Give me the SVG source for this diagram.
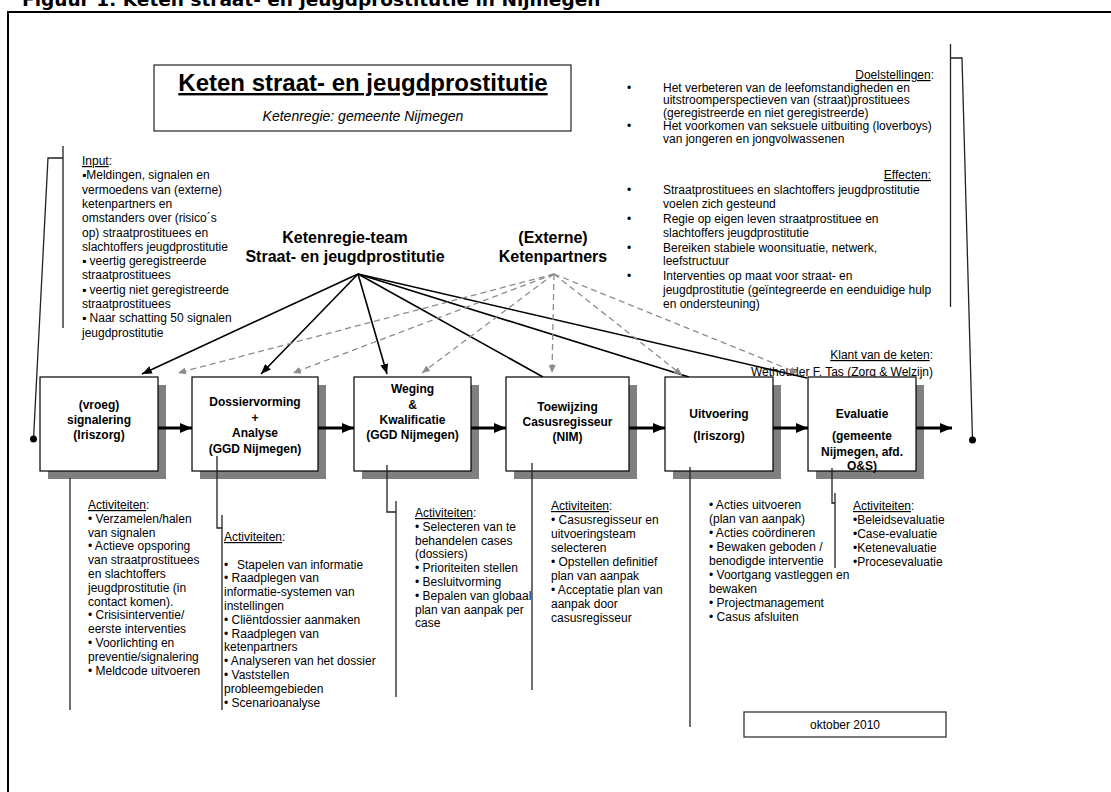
<svg xmlns="http://www.w3.org/2000/svg" width="1111" height="792" viewBox="0 0 1111 792">
<style>
.t{font-family:"Liberation Sans",Arial,"DejaVu Sans",sans-serif;font-size:12px;fill:#000}
.bt{font-family:"Liberation Sans",Arial,sans-serif;font-size:12px;font-weight:bold;fill:#000;text-anchor:middle}
.h{font-family:"Liberation Sans",Arial,sans-serif;font-size:16px;font-weight:bold;fill:#000;text-anchor:middle}
.u{text-decoration:underline}
.box{fill:#fff;stroke:#000;stroke-width:1.2}
.sh{fill:#808080}
.ln{stroke:#222;stroke-width:1.3;fill:none}
.solid{stroke:#000;stroke-width:1.6;fill:none}
.dash{stroke:#8c8c8c;stroke-width:1.3;stroke-dasharray:6 4;fill:none}
.thick{stroke:#000;stroke-width:3;fill:none}
.frame{stroke:#000;stroke-width:2;fill:none}
.tbox{fill:#fff;stroke:#333;stroke-width:1.3}
</style>
<defs>
<marker id="ab" markerUnits="userSpaceOnUse" markerWidth="10" markerHeight="8" refX="10" refY="4" orient="auto"><path d="M0,0 L10,4 L0,8 z" fill="#000"/></marker>
<marker id="ag" markerUnits="userSpaceOnUse" markerWidth="8" markerHeight="7" refX="8" refY="3.5" orient="auto"><path d="M0,0 L8,3.5 L0,7 z" fill="#8c8c8c"/></marker>
<marker id="at" markerUnits="userSpaceOnUse" markerWidth="12" markerHeight="10" refX="12" refY="5" orient="auto"><path d="M0,0 L12,5 L0,10 z" fill="#000"/></marker>
</defs>
<rect width="1111" height="792" fill="#fff"/>
<text x="22" y="5.5" font-family="'DejaVu Sans',Verdana,sans-serif" font-weight="bold" font-size="18.5">Figuur 1: Keten straat- en jeugdprostitutie in Nijmegen</text>
<path class="frame" d="M8,792 V12 H1111"/>

<g id="node-title">
<rect class="tbox" x="154" y="65" width="417" height="66"/>
<text x="363" y="91" text-anchor="middle" font-family="'Liberation Sans',Arial,sans-serif" font-size="24" font-weight="bold" text-decoration="underline">Keten straat- en jeugdprostitutie</text>
<text x="363" y="121" text-anchor="middle" font-family="'Liberation Sans',Arial,sans-serif" font-size="14" font-style="italic">Ketenregie: gemeente Nijmegen</text>
</g>

<g id="node-doelstellingen" class="t">
<text x="934" y="79" text-anchor="end"><tspan class="u">Doelstellingen</tspan>:</text>
<text x="627" y="91.5">•</text><text x="663" y="91.5">Het verbeteren van de leefomstandigheden en</text>
<text x="663" y="104.3">uitstroomperspectieven van (straat)prostituees</text>
<text x="663" y="117.1">(geregistreerde en niet geregistreerde)</text>
<text x="627" y="129.9">•</text><text x="663" y="129.9">Het voorkomen van seksuele uitbuiting (loverboys)</text>
<text x="663" y="142.7">van jongeren en jongvolwassenen</text>
</g>

<g id="node-effecten" class="t">
<text x="931" y="179" text-anchor="end" class="u">Effecten:</text>
<text x="627" y="194">•</text><text x="663" y="194">Straatprostituees en slachtoffers jeugdprostitutie</text>
<text x="663" y="207.5">voelen zich gesteund</text>
<text x="627" y="223">•</text><text x="663" y="223">Regie op eigen leven straatprostituee en</text>
<text x="663" y="236.5">slachtoffers jeugdprostitutie</text>
<text x="627" y="251.5">•</text><text x="663" y="251.5">Bereiken stabiele woonsituatie, netwerk,</text>
<text x="663" y="265">leefstructuur</text>
<text x="627" y="280">•</text><text x="663" y="280">Interventies op maat voor straat- en</text>
<text x="663" y="294">jeugdprostitutie (geïntegreerde en eenduidige hulp</text>
<text x="663" y="308">en ondersteuning)</text>
</g>

<g id="node-input" class="t">
<text x="82" y="165"><tspan class="u">Input</tspan>:</text>
<text x="82" y="179.3">▪Meldingen, signalen en</text>
<text x="82" y="193.6">vermoedens van (externe)</text>
<text x="82" y="207.9">ketenpartners en</text>
<text x="82" y="222.2">omstanders over (risico´s</text>
<text x="82" y="236.5">op) straatprostituees en</text>
<text x="82" y="250.8">slachtoffers jeugdprostitutie</text>
<text x="82" y="265.1">▪ veertig geregistreerde</text>
<text x="82" y="279.4">straatprostituees</text>
<text x="82" y="293.7">▪ veertig niet geregistreerde</text>
<text x="82" y="308">straatprostituees</text>
<text x="82" y="322.3">▪ Naar schatting 50 signalen</text>
<text x="82" y="336.6">jeugdprostitutie</text>
</g>

<g id="node-klant" class="t">
<text x="933" y="359" text-anchor="end"><tspan class="u">Klant van de keten</tspan>:</text>
<text x="933" y="376" text-anchor="end">Wethouder F. Tas (Zorg &amp; Welzijn)</text>
</g>

<g id="node-team">
<text class="h" x="345" y="243">Ketenregie-team</text>
<text class="h" x="345" y="261.5">Straat- en jeugdprostitutie</text>
</g>
<g id="node-extern">
<text class="h" x="553" y="243">(Externe)</text>
<text class="h" x="553" y="261.5">Ketenpartners</text>
</g>

<g id="connectors">
<path class="ln" d="M63,146 V328 M63,158 H48 L33.5,439"/>
<circle cx="33.5" cy="439" r="3.5" fill="#000"/>
<path class="ln" d="M950.5,44 V307 M950.5,58 H962 L972.5,440"/>
<circle cx="972.5" cy="440" r="3.5" fill="#000"/>
<line class="solid" x1="358" y1="274" x2="142" y2="374" marker-end="url(#ab)"/>
<line class="solid" x1="358" y1="274" x2="261" y2="374" marker-end="url(#ab)"/>
<line class="solid" x1="358" y1="274" x2="387" y2="374" marker-end="url(#ab)"/>
<line class="solid" x1="358" y1="274" x2="543" y2="377"/>
<line class="solid" x1="358" y1="274" x2="689" y2="377"/>
<line class="solid" x1="358" y1="274" x2="807" y2="378"/>
<line class="dash" x1="554" y1="274" x2="178" y2="373" marker-end="url(#ag)"/>
<line class="dash" x1="554" y1="274" x2="293" y2="373" marker-end="url(#ag)"/>
<line class="dash" x1="554" y1="274" x2="422" y2="373" marker-end="url(#ag)"/>
<line class="dash" x1="554" y1="274" x2="552" y2="373" marker-end="url(#ag)"/>
<line class="dash" x1="554" y1="274" x2="682" y2="375" marker-end="url(#ag)"/>
<line class="dash" x1="554" y1="274" x2="798" y2="373" marker-end="url(#ag)"/>
</g>

<g id="node-b1"><rect class="sh" x="48" y="385" width="118" height="94"/><rect class="box" x="40" y="377" width="118" height="94"/>
<text class="bt" x="99" y="409">(vroeg)</text><text class="bt" x="99" y="424">signalering</text><text class="bt" x="99" y="439">(Iriszorg)</text></g>
<g id="node-b2"><rect class="sh" x="200" y="385" width="126" height="94"/><rect class="box" x="192" y="377" width="126" height="94"/>
<text class="bt" x="255" y="406">Dossiervorming</text><text class="bt" x="255" y="421.5">+</text><text class="bt" x="255" y="437">Analyse</text><text class="bt" x="255" y="452.5">(GGD Nijmegen)</text></g>
<g id="node-b3"><rect class="sh" x="362" y="385" width="117" height="94"/><rect class="box" x="354" y="377" width="117" height="94"/>
<text class="bt" x="412.5" y="393">Weging</text><text class="bt" x="412.5" y="409">&amp;</text><text class="bt" x="412.5" y="424">Kwalificatie</text><text class="bt" x="412.5" y="439">(GGD Nijmegen)</text></g>
<g id="node-b4"><rect class="sh" x="514" y="385" width="123" height="94"/><rect class="box" x="506" y="377" width="123" height="94"/>
<text class="bt" x="567.5" y="411">Toewijzing</text><text class="bt" x="567.5" y="426">Casusregisseur</text><text class="bt" x="567.5" y="441">(NIM)</text></g>
<g id="node-b5"><rect class="sh" x="673" y="385" width="108" height="94"/><rect class="box" x="665" y="377" width="108" height="94"/>
<text class="bt" x="719" y="418">Uitvoering</text><text class="bt" x="719" y="440">(Iriszorg)</text></g>
<g id="node-b6"><rect class="sh" x="816" y="385" width="108" height="94"/><rect class="box" x="808" y="377" width="108" height="94"/>
<text class="bt" x="862" y="418">Evaluatie</text><text class="bt" x="862" y="440">(gemeente</text><text class="bt" x="862" y="456">Nijmegen, afd.</text><text class="bt" x="862" y="470">O&amp;S)</text></g>

<g id="chain-connectors">
<line class="thick" x1="158" y1="428" x2="192" y2="428" marker-end="url(#at)"/>
<line class="thick" x1="318" y1="428" x2="354" y2="428" marker-end="url(#at)"/>
<line class="thick" x1="471" y1="428" x2="506" y2="428" marker-end="url(#at)"/>
<line class="thick" x1="629" y1="428" x2="665" y2="428" marker-end="url(#at)"/>
<line class="thick" x1="773" y1="428" x2="808" y2="428" marker-end="url(#at)"/>
<line class="thick" x1="916" y1="428" x2="952" y2="428" marker-end="url(#at)"/>
<path class="ln" d="M70,478 V710"/>
<path class="ln" d="M217,456 V528 H222 M222,515 V710"/>
<path class="ln" d="M387,465 V512 H396 M396,501 V697"/>
<path class="ln" d="M532,463 V690"/>
<path class="ln" d="M690,467 V727"/>
<path class="ln" d="M832,468 V503 H835 M835,493 V568"/>
</g>

<g id="node-act1" class="t">
<text x="88" y="509"><tspan class="u">Activiteiten</tspan>:</text>
<text x="88" y="522.8">• Verzamelen/halen</text>
<text x="88" y="536.6">van signalen</text>
<text x="88" y="550.4">• Actieve opsporing</text>
<text x="88" y="564.2">van straatprostituees</text>
<text x="88" y="578">en slachtoffers</text>
<text x="88" y="591.8">jeugdprostitutie (in</text>
<text x="88" y="605.6">contact komen).</text>
<text x="88" y="619.4">• Crisisinterventie/</text>
<text x="88" y="633.2">eerste interventies</text>
<text x="88" y="647">• Voorlichting en</text>
<text x="88" y="660.8">preventie/signalering</text>
<text x="88" y="674.6">• Meldcode uitvoeren</text>
</g>
<g id="node-act2" class="t">
<text x="224" y="541"><tspan class="u">Activiteiten</tspan>:</text>
<text x="224" y="568.6">•</text><text x="237" y="568.6">Stapelen van informatie</text>
<text x="224" y="582.4">• Raadplegen van</text>
<text x="224" y="596.2">informatie-systemen van</text>
<text x="224" y="610">instellingen</text>
<text x="224" y="623.8">• Cliëntdossier aanmaken</text>
<text x="224" y="637.6">• Raadplegen van</text>
<text x="224" y="651.4">ketenpartners</text>
<text x="224" y="665.2">• Analyseren van het dossier</text>
<text x="224" y="679">• Vaststellen</text>
<text x="224" y="692.8">probleemgebieden</text>
<text x="224" y="706.6">• Scenarioanalyse</text>
</g>
<g id="node-act3" class="t">
<text x="415" y="517"><tspan class="u">Activiteiten</tspan>:</text>
<text x="415" y="530.8">• Selecteren van te</text>
<text x="415" y="544.6">behandelen cases</text>
<text x="415" y="558.4">(dossiers)</text>
<text x="415" y="572.2">• Prioriteiten stellen</text>
<text x="415" y="586">• Besluitvorming</text>
<text x="415" y="599.8">• Bepalen van globaal</text>
<text x="415" y="613.6">plan van aanpak per</text>
<text x="415" y="627.4">case</text>
</g>
<g id="node-act4" class="t">
<text x="551" y="510"><tspan class="u">Activiteiten</tspan>:</text>
<text x="551" y="524">• Casusregisseur en</text>
<text x="551" y="538">uitvoeringsteam</text>
<text x="551" y="552">selecteren</text>
<text x="551" y="566">• Opstellen definitief</text>
<text x="551" y="580">plan van aanpak</text>
<text x="551" y="594">• Acceptatie plan van</text>
<text x="551" y="608">aanpak door</text>
<text x="551" y="622">casusregisseur</text>
</g>
<g id="node-act5" class="t">
<text x="709" y="509">• Acties uitvoeren</text>
<text x="709" y="523">(plan van aanpak)</text>
<text x="709" y="537">• Acties coördineren</text>
<text x="709" y="551">• Bewaken geboden /</text>
<text x="709" y="565">benodigde interventie</text>
<text x="709" y="579">• Voortgang vastleggen en</text>
<text x="709" y="593">bewaken</text>
<text x="709" y="607">• Projectmanagement</text>
<text x="709" y="621">• Casus afsluiten</text>
</g>
<g id="node-act6" class="t">
<text x="853" y="510"><tspan class="u">Activiteiten</tspan>:</text>
<text x="853" y="524">•Beleidsevaluatie</text>
<text x="853" y="538">•Case-evaluatie</text>
<text x="853" y="552">•Ketenevaluatie</text>
<text x="853" y="566">•Procesevaluatie</text>
</g>

<g id="node-date">
<rect class="tbox" x="744" y="712" width="202" height="25"/>
<text class="t" x="845" y="729" text-anchor="middle">oktober 2010</text>
</g>
</svg>
